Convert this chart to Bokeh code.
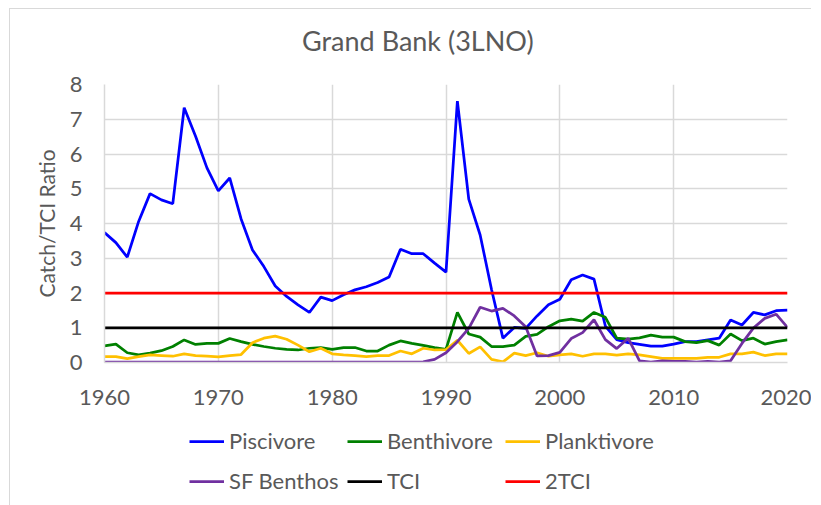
from bokeh.plotting import figure
from bokeh.models import Legend, LegendItem, FixedTicker, Range1d
from bokeh.layouts import column
from bokeh.embed import file_html
from bokeh.resources import INLINE

years = list(range(1960, 2021))

piscivore = [3.74, 3.45, 3.03, 4.06, 4.86, 4.68, 4.57, 7.33, 6.51, 5.60,
             4.94, 5.31, 4.13, 3.24, 2.76, 2.20, 1.90, 1.66, 1.44, 1.88,
             1.78, 1.95, 2.09, 2.18, 2.30, 2.46, 3.26, 3.13, 3.13, 2.86,
             2.60, 7.52, 4.70, 3.67, 2.10, 0.70, 1.01, 0.98, 1.34, 1.66,
             1.82, 2.38, 2.52, 2.40, 1.05, 0.66, 0.57, 0.52, 0.47, 0.47,
             0.53, 0.60, 0.60, 0.65, 0.70, 1.22, 1.08, 1.44, 1.37, 1.49,
             1.51]

benthivore = [0.48, 0.53, 0.28, 0.22, 0.27, 0.34, 0.46, 0.65, 0.52, 0.55,
              0.55, 0.69, 0.60, 0.52, 0.46, 0.41, 0.38, 0.36, 0.41, 0.43,
              0.38, 0.43, 0.43, 0.33, 0.33, 0.50, 0.62, 0.55, 0.49, 0.43,
              0.38, 1.44, 0.82, 0.73, 0.46, 0.46, 0.50, 0.75, 0.81, 1.03,
              1.20, 1.25, 1.19, 1.44, 1.30, 0.70, 0.67, 0.71, 0.79, 0.73,
              0.73, 0.60, 0.57, 0.63, 0.50, 0.82, 0.63, 0.70, 0.53, 0.60,
              0.65]

planktivore = [0.17, 0.17, 0.11, 0.17, 0.22, 0.20, 0.18, 0.25, 0.20, 0.18,
               0.16, 0.20, 0.23, 0.57, 0.70, 0.76, 0.67, 0.50, 0.31, 0.41,
               0.25, 0.22, 0.20, 0.17, 0.20, 0.20, 0.33, 0.25, 0.41, 0.36,
               0.37, 0.64, 0.26, 0.45, 0.09, 0.02, 0.27, 0.20, 0.28, 0.18,
               0.22, 0.25, 0.18, 0.25, 0.25, 0.21, 0.25, 0.22, 0.17, 0.12,
               0.12, 0.12, 0.12, 0.15, 0.15, 0.25, 0.25, 0.30, 0.20, 0.25,
               0.25]

sf_benthos = [0.01, 0.01, 0.01, 0.01, 0.01, 0.01, 0.01, 0.01, 0.01, 0.01,
              0.01, 0.01, 0.01, 0.01, 0.01, 0.01, 0.01, 0.01, 0.01, 0.01,
              0.01, 0.01, 0.01, 0.01, 0.01, 0.01, 0.01, 0.01, 0.02, 0.09,
              0.28, 0.60, 0.98, 1.59, 1.48, 1.56, 1.34, 1.03, 0.19, 0.20,
              0.29, 0.69, 0.86, 1.23, 0.66, 0.40, 0.70, 0.05, 0.01, 0.05,
              0.03, 0.03, 0.01, 0.03, 0.01, 0.05, 0.55, 0.99, 1.27, 1.39,
              1.01]

ref_years = [1960, 2020]
tci = [1.0, 1.0]
tci2 = [2.0, 2.0]

series_names = ["Piscivore", "Benthivore", "Planktivore", "SF Benthos", "TCI", "2TCI"]
series_colors = ["#0000ff", "#008000", "#ffc000", "#7030a0", "#000000", "#ff0000"]

title_text = "Grand Bank (3LNO)"
x_ticks = [1960, 1970, 1980, 1990, 2000, 2010, 2020]
y_ticks = [0, 1, 2, 3, 4, 5, 6, 7, 8]

FONT = "Lato"
TXT = "#595959"
GRID = "#d9d9d9"
LW = 2.75
WIDTH = 801


def strip(height, top=False):
    f = figure(frame_width=WIDTH, frame_height=height, min_border=0,
               x_range=Range1d(0, 1), y_range=Range1d(0, 1),
               x_axis_location=None, y_axis_location=None,
               output_backend="svg", toolbar_location=None)
    st = {"margin-left": "9px", "border-left": "1px solid #d9d9d9"}
    if top:
        st.update({"margin-top": "8px", "border-top": "1px solid #d9d9d9"})
    f.styles = st
    f.xgrid.visible = False
    f.ygrid.visible = False
    f.outline_line_color = None
    return f


def make_legend(its, loc, size="22px", h=24, gw=35, gs=5, lw=118):
    return Legend(items=its, orientation="horizontal", location=loc,
                  glyph_width=gw, glyph_height=h, label_height=h,
                  label_width=lw, label_standoff=gs, spacing=0,
                  padding=0, margin=0,
                  label_text_font=FONT, label_text_font_size=size,
                  label_text_color=TXT,
                  border_line_color=None, background_fill_alpha=0)


# ---------- title strip ----------
pt = strip(59, top=True)
rt = pt.line(x=[0, 1], y=[-5, -5], line_alpha=0)
pt.add_layout(make_legend([LegendItem(label=title_text, renderers=[rt])],
                          (292, 12), size="27px", h=34, gw=0, gs=0, lw=10))

# ---------- main chart ----------
p = figure(frame_width=682, frame_height=278,
           min_border_left=94, min_border_right=25,
           min_border_top=16, min_border_bottom=60,
           x_range=Range1d(1960, 2020), y_range=Range1d(0, 8),
           output_backend="svg", toolbar_location=None)
p.styles = {"margin-left": "9px", "border-left": "1px solid #d9d9d9"}
p.outline_line_color = None

for ax in (p.xaxis[0], p.yaxis[0]):
    ax.major_label_text_font = FONT
    ax.major_label_text_font_size = "22px"
    ax.major_label_text_color = TXT
    ax.major_tick_line_color = None
    ax.minor_tick_line_color = None
    ax.major_tick_in = 0
    ax.major_tick_out = 0
    ax.axis_line_color = GRID
    ax.axis_line_width = 1.5

p.xaxis.ticker = FixedTicker(ticks=x_ticks)
p.yaxis.ticker = FixedTicker(ticks=y_ticks)
p.xaxis.major_label_standoff = 27
p.yaxis.major_label_standoff = 22
p.yaxis.axis_label = "Catch/TCI Ratio"
p.yaxis.axis_label_text_font = FONT
p.yaxis.axis_label_text_font_size = "21px"
p.yaxis.axis_label_text_font_style = "normal"
p.yaxis.axis_label_text_color = TXT
p.yaxis.axis_label_standoff = 8

p.xgrid.ticker = FixedTicker(ticks=x_ticks)
p.ygrid.ticker = FixedTicker(ticks=y_ticks)
p.xgrid.grid_line_color = GRID
p.ygrid.grid_line_color = GRID
p.xgrid.grid_line_width = 1.5
p.ygrid.grid_line_width = 1.5

series = [(years, piscivore), (years, benthivore), (years, planktivore),
          (years, sf_benthos), (ref_years, tci), (ref_years, tci2)]
for (xs, ys), c in zip(series, series_colors):
    p.line(xs, ys, line_color=c, line_width=LW)

# ---------- legend strip ----------
pl = strip(83)
items = []
for name, c in zip(series_names, series_colors):
    # off-screen stand-in so that the legend can draw the line swatch
    r = pl.line(x=[0, 1], y=[-5, -5], line_color=c, line_width=LW)
    items.append(LegendItem(label=name, renderers=[r]))

pl.add_layout(make_legend(items[:3], (179, 51)))
pl.add_layout(make_legend(items[3:], (179, 11)))

layout = column(pt, p, pl)
open("out.html", "w").write(file_html(layout, INLINE))
